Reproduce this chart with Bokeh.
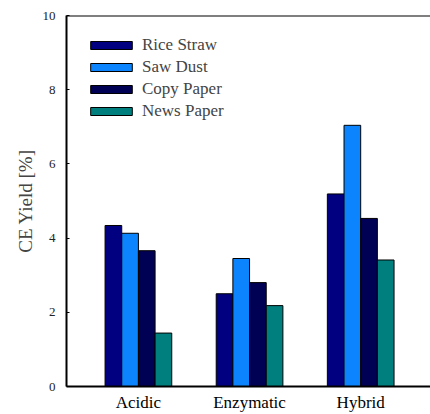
from bokeh.plotting import figure
from bokeh.models import (ColumnDataSource, Range1d, SingleIntervalTicker, FixedTicker,
                          Legend, LegendItem, Span)
from bokeh.transform import dodge
from bokeh.embed import file_html
from bokeh.resources import INLINE

categories = ["Acidic", "Enzymatic", "Hybrid"]
series_names = ["Rice Straw", "Saw Dust", "Copy Paper", "News Paper"]
rice_straw = [4.34, 2.50, 5.19]
saw_dust = [4.13, 3.45, 7.04]
copy_paper = [3.66, 2.80, 4.53]
news_paper = [1.44, 2.18, 3.41]
colors = ["#000080", "#0b84fd", "#000055", "#007f7f"]
y_ticks_interval = 2

positions = list(range(len(categories)))
src = ColumnDataSource(dict(x=positions, rice=rice_straw, saw=saw_dust,
                            copy=copy_paper, news=news_paper))

FONT = "Liberation Serif"

p = figure(width=430, height=414, output_backend="svg", toolbar_location=None,
           x_range=Range1d(-0.647, 2.628), y_range=Range1d(0, 10),
           min_border_left=66, min_border_top=15, min_border_right=0, min_border_bottom=26)
p.outline_line_color = None
p.grid.visible = False
p.background_fill_color = "white"
p.border_fill_color = "white"

offsets = [-0.225, -0.075, 0.075, 0.225]
fields = ["rice", "saw", "copy", "news"]
rends = []
for f, off, c in zip(fields, offsets, colors):
    r = p.vbar(x=dodge("x", off), top=f, width=0.15, source=src,
               fill_color=c, line_color="black", line_width=1)
    rends.append(r)

legend = Legend(items=[LegendItem(label=n, renderers=[r]) for n, r in zip(series_names, rends)],
                location="top_left", margin=19, padding=0, spacing=0,
                glyph_width=52, glyph_height=10, label_height=22, label_standoff=5,
                label_text_font=FONT, label_text_font_size="17px",
                border_line_color=None, background_fill_alpha=0)
p.add_layout(legend)

p.add_layout(Span(location=10, dimension="width", line_color="black", line_width=2))

# y axis
p.yaxis.ticker = SingleIntervalTicker(interval=y_ticks_interval)
p.yaxis.minor_tick_line_color = None
p.yaxis.major_tick_in = 3
p.yaxis.major_tick_out = 0
p.yaxis.axis_line_width = 2
p.yaxis.major_label_text_font = FONT
p.yaxis.major_label_text_font_size = "13px"
p.yaxis.major_label_text_color = "#222222"
p.yaxis.major_label_standoff = 7
p.yaxis.axis_label = "CE Yield [%]"
p.yaxis.axis_label_text_font = FONT
p.yaxis.axis_label_text_font_size = "19px"
p.yaxis.axis_label_text_font_style = "normal"
p.yaxis.axis_label_standoff = 4

# x axis
p.xaxis.ticker = FixedTicker(ticks=positions)
p.xaxis.major_label_overrides = {i: c for i, c in zip(positions, categories)}
p.xaxis.major_tick_line_color = None
p.xaxis.minor_tick_line_color = None
p.xaxis.axis_line_width = 2
p.xaxis.major_label_text_font = FONT
p.xaxis.major_label_text_font_size = "17px"
p.xaxis.major_label_text_line_height = 0.9
p.xaxis.major_label_text_color = "black"
p.xaxis.major_label_standoff = 0

open("out.html", "w").write(file_html(p, INLINE))
